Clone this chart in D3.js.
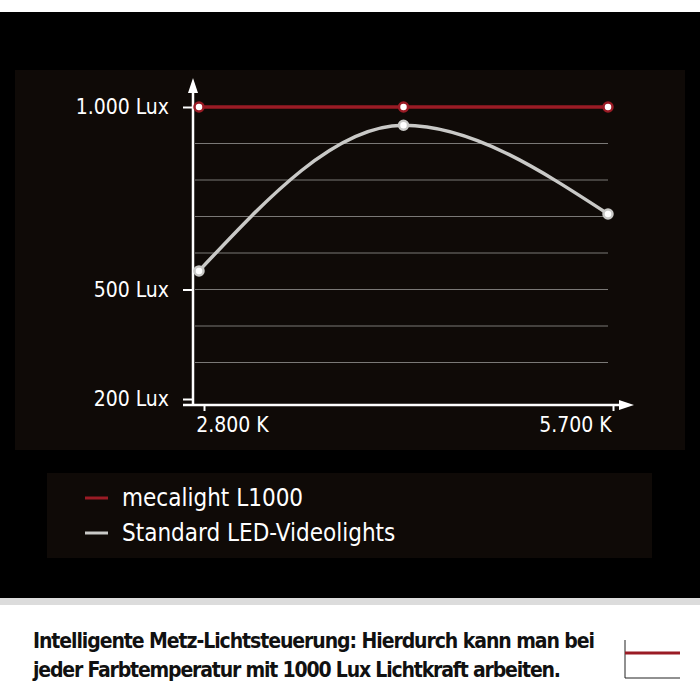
<!DOCTYPE html>
<html>
<head>
<meta charset="UTF-8"/>
<script src="https://d3js.org/d3.v7.min.js"></script>
<style>
  body { margin: 0; background: #fff; }
  text { font-family: "DejaVu Sans Condensed", "DejaVu Sans", sans-serif; }
</style>
</head>
<body>
<script>
// data
var kelvin = [2800, 4250, 5700];
var mecalight = [1000, 1000, 1000];
var standardLed = [551, 950, 707];
var yTicks = [200, 500, 1000];
var yTickLabels = ["200 Lux", "500 Lux", "1.000 Lux"];
var gridValues = [300, 400, 500, 600, 700, 800, 900];
var xTickLabels = ["2.800 K", "5.700 K"];
var legendNames = ["mecalight L1000", "Standard LED-Videolights"];
var colors = ["#9a1b25", "#c9c9c7"];

var svg = d3.select("body").append("svg").attr("width", 700).attr("height", 700);

svg.append("rect").attr("x", 0).attr("y", 12).attr("width", 700).attr("height", 586).attr("fill", "#000");
svg.append("rect").attr("x", 0).attr("y", 598).attr("width", 700).attr("height", 7).attr("fill", "#dcdcdc");
svg.append("rect").attr("x", 15).attr("y", 70).attr("width", 670).attr("height", 380).attr("fill", "#0f0a07");
svg.append("rect").attr("x", 47).attr("y", 473).attr("width", 605).attr("height", 85).attr("fill", "#0f0a07");

var x = d3.scaleLinear().domain([2800, 5700]).range([199, 608]);
var y = d3.scaleLinear().domain([200, 1000]).range([399, 107]);

// grid
svg.append("g").selectAll("line").data(gridValues).enter().append("line")
  .attr("x1", 195).attr("x2", 608)
  .attr("y1", function (d) { return y(d); }).attr("y2", function (d) { return y(d); })
  .attr("stroke", "#7a7876").attr("stroke-width", 1);

// axes
var ya = svg.append("g").attr("transform", "translate(193,0)")
  .call(d3.axisLeft(y).tickValues(yTicks).tickSize(10).tickPadding(14)
    .tickFormat(function (d, i) { return yTickLabels[i]; }));
ya.select(".domain").remove();
ya.selectAll("line").attr("stroke", "#fff").attr("stroke-width", 2);
ya.selectAll("text").attr("fill", "#fff").attr("font-size", 21);

var xa = svg.append("g").attr("transform", "translate(0,405)")
  .call(d3.axisBottom(x).tickValues([2800, 5700]).tickSize(6).tickPadding(6)
    .tickFormat(function (d, i) { return xTickLabels[i]; }));
xa.select(".domain").remove();
xa.selectAll("line").attr("stroke", "#fff").attr("stroke-width", 2).attr("transform", "translate(5,0)");
xa.selectAll("text").attr("fill", "#fff").attr("font-size", 21)
  .attr("dx", function (d, i) { return i === 0 ? 33 : -33; });

svg.append("line").attr("x1", 193).attr("x2", 193).attr("y1", 90).attr("y2", 406).attr("stroke", "#fff").attr("stroke-width", 2.5);
svg.append("path").attr("d", "M193,78 L188,93 L198,93 Z").attr("fill", "#fff");
svg.append("line").attr("x1", 183).attr("x2", 622).attr("y1", 405).attr("y2", 405).attr("stroke", "#fff").attr("stroke-width", 2.5);
svg.append("path").attr("d", "M634,405 L619,400 L619,410 Z").attr("fill", "#fff");

// series
var series = [mecalight, standardLed];
var line = d3.line().x(function (d, i) { return x(kelvin[i]); }).y(function (d) { return y(d); });
series.forEach(function (s, k) {
  svg.append("path").datum(s)
    .attr("d", line.curve(k === 0 ? d3.curveLinear : d3.curveMonotoneX))
    .attr("fill", "none").attr("stroke", colors[k]).attr("stroke-width", 3.5);
  svg.append("g").selectAll("circle").data(s).enter().append("circle")
    .attr("cx", function (d, i) { return x(kelvin[i]); })
    .attr("cy", function (d) { return y(d); })
    .attr("r", 4.5).attr("fill", "#fff").attr("stroke", colors[k]).attr("stroke-width", 2.5);
});

// legend
legendNames.forEach(function (n, i) {
  var ly = 498 + i * 35;
  svg.append("line").attr("x1", 85).attr("x2", 108).attr("y1", ly).attr("y2", ly)
    .attr("stroke", colors[i]).attr("stroke-width", 3);
  svg.append("text").attr("x", 122).attr("y", ly + 8).attr("fill", "#fff")
    .attr("font-size", 24).text(n);
});

// caption
svg.append("text").attr("x", 33).attr("y", 648).attr("font-size", 21).attr("font-weight", "bold")
  .attr("fill", "#111").attr("textLength", 562).text("Intelligente Metz-Lichtsteuerung: Hierdurch kann man bei");
svg.append("text").attr("x", 33).attr("y", 677).attr("font-size", 21).attr("font-weight", "bold")
  .attr("fill", "#111").attr("textLength", 528).text("jeder Farbtemperatur mit 1000 Lux Lichtkraft arbeiten.");

// small icon
svg.append("line").attr("x1", 625).attr("x2", 625).attr("y1", 640).attr("y2", 678).attr("stroke", "#222").attr("stroke-width", 1);
svg.append("line").attr("x1", 625).attr("x2", 680).attr("y1", 678).attr("y2", 678).attr("stroke", "#222").attr("stroke-width", 1);
svg.append("line").attr("x1", 625).attr("x2", 680).attr("y1", 653).attr("y2", 653).attr("stroke", colors[0]).attr("stroke-width", 3);
</script>
</body>
</html>
